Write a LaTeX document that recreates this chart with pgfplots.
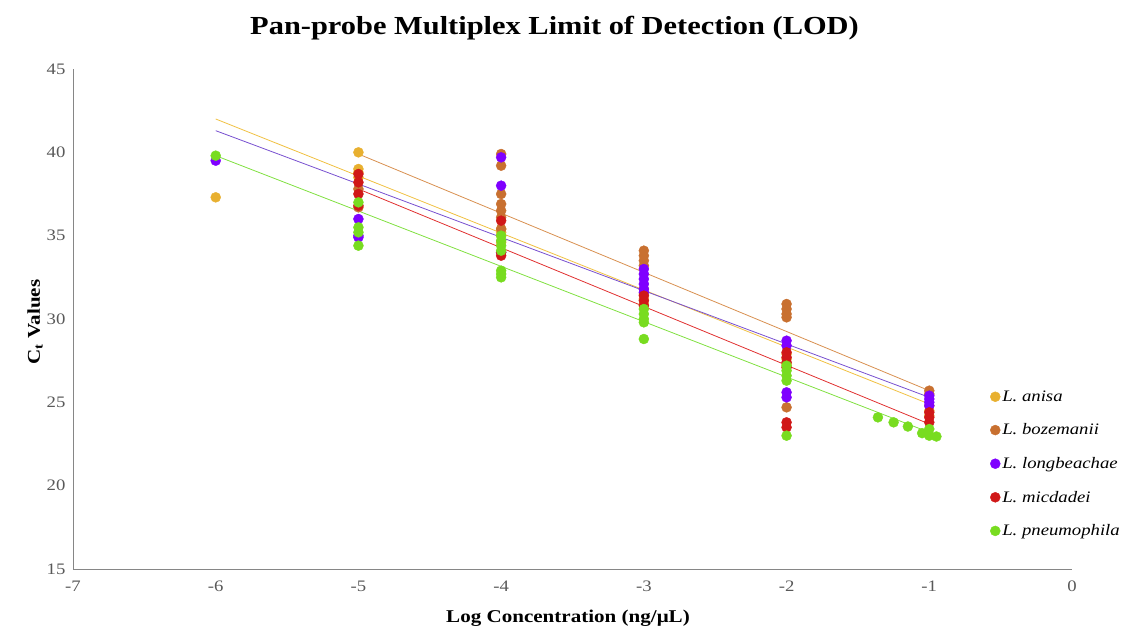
\documentclass[border=0pt]{standalone}
\usepackage{fontspec}
\setmainfont{Liberation Serif}[FakeStretch=1.17]
\usepackage{pgfplots}
\pgfplotsset{compat=1.18}
\definecolor{cA}{HTML}{E8B030}
\definecolor{cB}{HTML}{C87030}
\definecolor{cL}{HTML}{7F00FF}
\definecolor{cM}{HTML}{D01818}
\definecolor{cP}{HTML}{78DC20}
\definecolor{lA}{HTML}{F0C040}
\definecolor{lB}{HTML}{D89050}
\definecolor{lL}{HTML}{7850D0}
\definecolor{lM}{HTML}{E03030}
\definecolor{lP}{HTML}{80E040}
\definecolor{axisgray}{HTML}{868686}
\definecolor{ticktext}{HTML}{595959}
\begin{document}
\begin{tikzpicture}
\begin{axis}[name=ax, at={(0,0)}, anchor=south west,
  scale only axis, width=999pt, height=500pt,
  xmin=-7, xmax=0, ymin=15, ymax=45,
  xtick={-7,-6,...,0}, ytick={15,20,...,45},
  axis x line*=bottom, axis y line*=left,
  axis line style={draw=axisgray, line width=0.8pt, -},
  major tick length=0pt,
  tick label style={font=\fontsize{16}{18}\selectfont, text=ticktext},
  xticklabel style={yshift=-8pt},
  yticklabel style={xshift=-4pt},
  /pgf/number format/assume math mode=true,
  title={Pan-probe Multiplex Limit of Detection (LOD)},
  title style={at={(axis description cs:0.482,1)}, anchor=center, yshift=35pt, font=\fontsize{26}{30}\selectfont\bfseries},
  xlabel={Log Concentration (ng/μL)},
  xlabel style={at={(axis description cs:0.4955,-0.098)}, anchor=center, font=\fontsize{18}{22}\selectfont\bfseries},
  ylabel={C\textsubscript{t} Values},
  ylabel style={at={(axis description cs:-0.038,0.494)}, anchor=center, font=\fontsize{18}{22}\selectfont\bfseries},
  legend style={draw=none, fill=none, at={(axis description cs:0.918,0.361)}, anchor=north west,
    font=\fontsize{16}{18}\selectfont\itshape, row sep=17pt, inner sep=0pt},
  legend cell align=left,
  legend image code/.code={\draw[#1] plot coordinates {(4pt,0pt)};},
  clip=false,
]
% trend lines
\addplot[lA, line width=0.8pt, forget plot] coordinates {(-6,42.0) (-1,24.9)};
\addplot[lB, line width=0.8pt, forget plot] coordinates {(-5,39.9) (-1,25.7)};
\addplot[lL, line width=0.8pt, forget plot] coordinates {(-6,41.3) (-1,25.3)};
\addplot[lM, line width=0.8pt, forget plot] coordinates {(-5,37.8) (-1,23.7)};
\addplot[lP, line width=0.8pt, forget plot] coordinates {(-6,39.8) (-1,23.2)};
% points
\addplot[only marks, mark=*, mark size=5pt, color=cA] coordinates {
(-6,37.3) (-5,40.0) (-5,39.0) (-5,38.8) (-5,38.5)
(-4,35.4) (-4,35.2) (-4,35.0) (-4,34.6)
(-3,31.8) (-3,31.5) (-3,31.2) (-3,30.9)
(-2,27.9) (-2,27.6) (-2,27.3)
(-1,24.8) (-1,24.5) (-1,24.2)};
\addlegendentry{L. anisa}
\addplot[only marks, mark=*, mark size=5pt, color=cB] coordinates {
(-5,37.8) (-5,36.7)
(-4,39.9) (-4,39.2) (-4,37.5) (-4,36.9) (-4,36.5) (-4,36.1) (-4,35.4)
(-3,34.1) (-3,33.8) (-3,33.5) (-3,33.2)
(-2,30.9) (-2,30.6) (-2,30.3) (-2,30.1) (-2,24.7)
(-1,25.7) (-1,25.5)};
\addlegendentry{L. bozemanii}
\addplot[only marks, mark=*, mark size=5pt, color=cL] coordinates {
(-6,39.5) (-5,36.0) (-5,35.0) (-5,34.9)
(-4,39.7) (-4,38.0) (-4,34.0)
(-3,33.0) (-3,32.7) (-3,32.4) (-3,32.1) (-3,31.8) (-3,31.6)
(-2,28.7) (-2,28.4) (-2,25.6) (-2,25.3)
(-1,25.4) (-1,25.2) (-1,25.0) (-1,24.8)};
\addlegendentry{L. longbeachae}
\addplot[only marks, mark=*, mark size=5pt, color=cM] coordinates {
(-5,38.7) (-5,38.2) (-5,37.5) (-5,36.8)
(-4,35.9) (-4,34.0) (-4,33.8)
(-3,31.4) (-3,31.1) (-3,30.8)
(-2,28.0) (-2,27.7) (-2,27.4) (-2,27.1) (-2,23.8) (-2,23.5)
(-1,24.4) (-1,24.1) (-1,23.8)};
\addlegendentry{L. micdadei}
\addplot[only marks, mark=*, mark size=5pt, color=cP] coordinates {
(-6,39.8) (-5,37.0) (-5,35.5) (-5,35.2) (-5,34.4)
(-4,35.0) (-4,34.7) (-4,34.4) (-4,34.1) (-4,32.9) (-4,32.7) (-4,32.5)
(-3,30.6) (-3,30.3) (-3,30.0) (-3,29.8) (-3,28.8)
(-2,27.2) (-2,26.9) (-2,26.6) (-2,26.3) (-2,23.0)
(-1.36,24.1) (-1.25,23.8) (-1.15,23.55) (-1.05,23.15) (-1.0,23.4) (-1.0,23.0) (-0.95,22.95)};
\addlegendentry{L. pneumophila}
\end{axis}
\pgfresetboundingbox
\useasboundingbox (-73pt,-64pt) rectangle (1049pt,569pt);
\end{tikzpicture}
\end{document}
